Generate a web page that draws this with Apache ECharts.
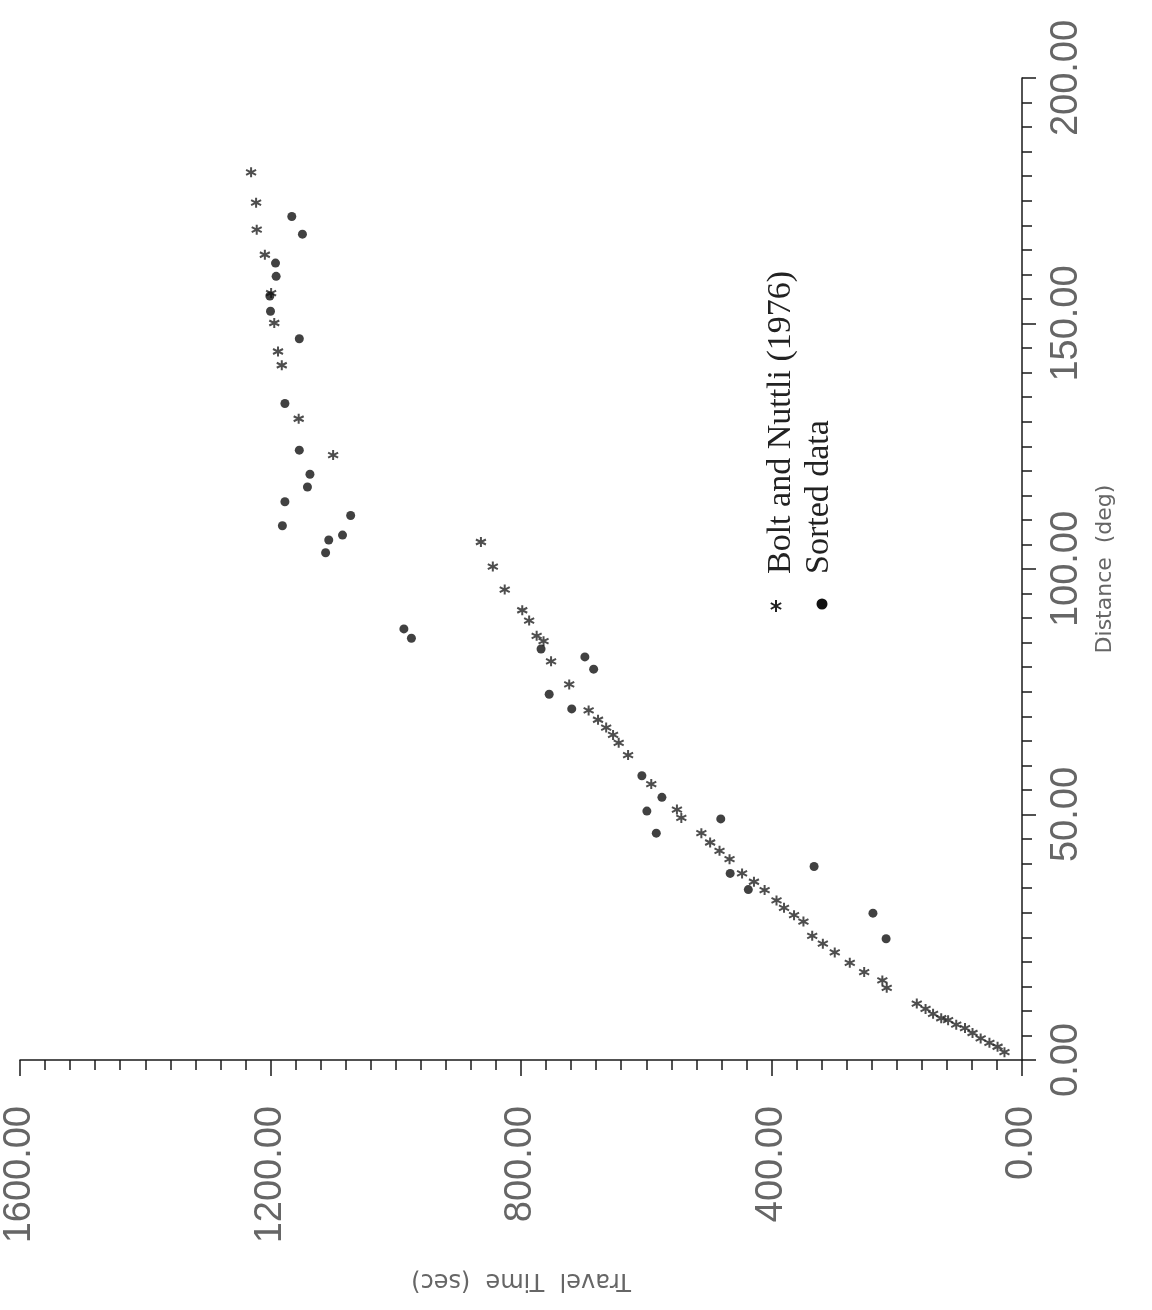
<!DOCTYPE html>
<html>
<head>
<meta charset="utf-8">
<script src="https://cdn.jsdelivr.net/npm/echarts@6/dist/echarts.min.js"></script>
<style>
html,body{margin:0;padding:0;background:#fff;}
#chart{width:1152px;height:1310px;}
</style>
</head>
<body>
<div id="chart"></div>
<script>
// Bolt and Nuttli (1976): distance (deg), travel time (sec)
var bnDistance = [1.6,2.7,3.5,4.4,5.5,6.5,7.2,8.1,8.5,9.4,10.4,11.5,14.7,16.2,17.9,19.8,21.9,23.7,25.3,28.2,29.5,31.0,32.5,34.6,36.3,38.0,40.9,42.6,44.3,46.2,49.3,51.0,56.2,62.1,64.6,66.2,67.7,69.3,71.2,76.5,81.2,85.3,86.4,89.5,91.6,95.8,100.5,105.5,123.2,130.6,141.5,144.3,150.1,156.2,164.0,169.1,174.6,180.8];
var bnTime = [28,39,52,66,79,91,105,118,129,142,154,168,216,223,252,275,299,318,335,349,364,380,392,411,428,447,467,483,498,512,544,551,592,629,644,653,664,677,692,723,752,764,775,787,798,826,845,864,1100,1155,1182,1188,1194,1199,1209,1222,1223,1231];
// Sorted data
var sdDistance = [24.7,29.9,39.4,34.7,38.0,49.1,53.5,46.2,50.7,57.9,79.6,82.1,71.5,74.5,83.7,85.9,87.8,108.8,113.7,103.3,105.9,106.9,110.9,116.7,119.3,124.2,133.7,146.9,152.5,155.6,159.6,162.3,168.2,171.8];
var sdTime = [217,238,332,437,466,481,575,584,599,607,684,698,719,755,768,975,987,1181,1177,1112,1107,1085,1072,1141,1137,1154,1177,1154,1200,1201,1191,1192,1149,1166];

var timeTicks = {min:0, max:1600, interval:400};
var distTicks = {min:0, max:200, interval:50};
var legendNames = ['Bolt and Nuttli (1976)', 'Sorted data'];
var xTitle = 'Travel  Time  (sec)';
var yTitle = 'Distance  (deg)';

function zip(t, d){ var o=[]; for(var i=0;i<t.length;i++) o.push([t[i], d[i]]); return o; }

var starPath = 'path://M0,-10L0,10M-8.66,-5L8.66,5M-8.66,5L8.66,-5';
var axisColor = '#1a1a1a';
var labelColor = '#666';

function starLines(cx, cy, r){
  var a = [[0,-r,0,r],[-0.866*r,-0.5*r,0.866*r,0.5*r],[-0.866*r,0.5*r,0.866*r,-0.5*r]];
  return a.map(function(s){
    return {type:'line', shape:{x1:cx+s[0], y1:cy+s[1], x2:cx+s[2], y2:cy+s[3]}, style:{stroke:'#222', lineWidth:2}};
  });
}

var chart = echarts.init(document.getElementById('chart'));
chart.setOption({
  animation:false,
  backgroundColor:'#ffffff',
  grid:{left:20, right:130, top:78, bottom:250},
  xAxis:{
    type:'value', inverse:true, position:'bottom',
    min:timeTicks.min, max:timeTicks.max, interval:timeTicks.interval,
    axisLine:{lineStyle:{color:axisColor, width:1.5}},
    axisTick:{show:true, inside:false, length:16, lineStyle:{color:axisColor, width:1.5}},
    minorTick:{show:true, splitNumber:10, length:10, lineStyle:{color:axisColor, width:1.5}},
    splitLine:{show:false},
    axisLabel:{rotate:90, margin:46, fontSize:38, color:labelColor, fontFamily:'Liberation Sans',
      formatter:function(v){return v.toFixed(2);}},
    name:xTitle, nameLocation:'middle', nameRotate:180, nameGap:208,
    nameTextStyle:{fontSize:24, color:labelColor, fontFamily:'DejaVu Sans'}
  },
  yAxis:{
    type:'value', position:'right',
    min:distTicks.min, max:distTicks.max, interval:distTicks.interval,
    axisLine:{lineStyle:{color:axisColor, width:1.5}},
    axisTick:{show:true, inside:false, length:14, lineStyle:{color:axisColor, width:1.5}},
    minorTick:{show:true, splitNumber:10, length:10, lineStyle:{color:axisColor, width:1.5}},
    splitLine:{show:false},
    axisLabel:{rotate:90, margin:26, fontSize:38, color:labelColor, fontFamily:'Liberation Sans',
      formatter:function(v){return v.toFixed(2);}},
    name:yTitle, nameLocation:'middle', nameRotate:90, nameGap:70,
    nameTextStyle:{fontSize:22, color:labelColor, fontFamily:'DejaVu Sans'}
  },
  series:[
    {name:legendNames[0], type:'scatter', data:zip(bnTime, bnDistance),
     symbol:starPath, symbolSize:10,
     itemStyle:{color:'#222', borderColor:'#222', borderWidth:2}},
    {name:legendNames[1], type:'scatter', data:zip(sdTime, sdDistance),
     symbol:'circle', symbolSize:9,
     itemStyle:{color:'#111'}}
  ],
  graphic:starLines(776, 606, 6).concat([
    {type:'circle', shape:{cx:822, cy:604, r:5.5}, style:{fill:'#111'}},
    {type:'text', x:781, y:574, rotation:Math.PI/2,
     style:{text:legendNames[0], font:'34px "Liberation Serif"', fill:'#222', textAlign:'left', textVerticalAlign:'middle'}},
    {type:'text', x:819, y:574, rotation:Math.PI/2,
     style:{text:legendNames[1], font:'34px "Liberation Serif"', fill:'#222', textAlign:'left', textVerticalAlign:'middle'}}
  ])
});
</script>
</body>
</html>
